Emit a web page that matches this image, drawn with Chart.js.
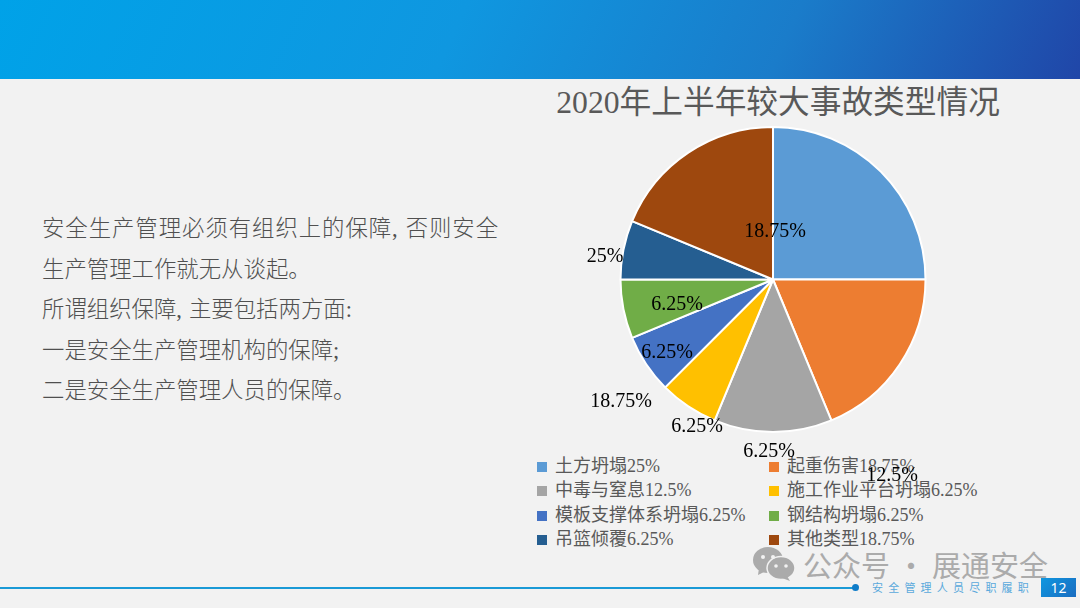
<!DOCTYPE html>
<html lang="zh-CN">
<head>
  <meta charset="UTF-8">
  <title>2020年上半年较大事故类型情况</title>
  <script src="https://cdn.jsdelivr.net/npm/chart.js@4/dist/chart.umd.min.js"></script>
  <style>
    html, body {
      margin: 0;
      padding: 0;
      width: 1080px;
      height: 608px;
      overflow: hidden;
      background: #f2f2f2;
      font-family: "Liberation Serif", "Noto Sans CJK SC", serif;
    }
    .band {
      position: absolute;
      left: 0;
      top: 0;
      width: 1080px;
      height: 79px;
      background: linear-gradient(115deg, #00a2e8 0%, #0f97e0 42%, #1a7cca 72%, #2046a8 100%);
    }
    .chart-title {
      position: absolute;
      left: 478px;
      top: 82px;
      width: 600px;
      text-align: center;
      font-size: 31.7px;
      line-height: 42px;
      color: #595959;
      white-space: nowrap;
    }
    .body-text {
      position: absolute;
      left: 42px;
      top: 209px;
      width: 480px;
      font-size: 22.4px;
      line-height: 40.5px;
      color: #505050;
      font-weight: 300;
    }
    .body-text .wide { letter-spacing: 0.95px; }
    .body-text .comma { padding-right: 7px; }
    #chart {
      position: absolute;
      left: 0;
      top: 0;
      z-index: 3;
    }
    #legend {
      position: absolute;
      left: 537px;
      top: 454px;
      display: grid;
      grid-template-columns: 232px 280px;
      grid-auto-rows: 24.3px;
      font-size: 18px;
      line-height: 24.3px;
      color: #595959;
      white-space: nowrap;
    }
    #legend i {
      display: inline-block;
      width: 10px;
      height: 10px;
      margin-right: 8px;
    }
    .mark {
      position: absolute;
      left: 803px;
      top: 544px;
      font-family: "Noto Sans CJK SC", sans-serif;
      font-size: 29px;
      line-height: 40px;
      color: #ababab;
      white-space: nowrap;
    }
    .wechat {
      position: absolute;
      left: 752px;
      top: 546px;
    }
    .rule {
      position: absolute;
      left: 0;
      top: 587px;
      width: 855px;
      height: 1.5px;
      background: #1a9ad6;
    }
    .dot {
      position: absolute;
      left: 852px;
      top: 584px;
      width: 7px;
      height: 7px;
      border-radius: 50%;
      background: #0f7cc8;
    }
    .slogan {
      position: absolute;
      left: 872px;
      top: 580px;
      font-family: "Noto Sans CJK SC", sans-serif;
      font-size: 11px;
      line-height: 15px;
      letter-spacing: 5.2px;
      color: #5aa9dc;
      white-space: nowrap;
    }
    .page {
      position: absolute;
      left: 1041px;
      top: 578px;
      width: 35px;
      height: 19px;
      background: linear-gradient(135deg, #0f97e0, #1a6cc0);
      color: #fff;
      font-family: "Noto Sans", sans-serif;
      font-size: 14px;
      line-height: 19px;
      text-align: center;
    }
  </style>
</head>
<body>
  <div class="band"></div>
  <div class="chart-title">2020年上半年较大事故类型情况</div>
  <div class="body-text">
    <span class="wide">安全生产管理必须有组织上的保障<span class="comma">,</span>否则安全</span><br>
    生产管理工作就无从谈起。<br>
    所谓组织保障<span class="comma">,</span>主要包括两方面:<br>
    一是安全生产管理机构的保障;<br>
    二是安全生产管理人员的保障。
  </div>
  <canvas id="chart" width="1080" height="608"></canvas>
  <div id="legend"></div>
  <svg class="wechat" width="44" height="36" viewBox="0 0 44 36">
    <ellipse cx="16" cy="14" rx="15" ry="13" fill="#ababab"/>
    <path d="M7 22 L6 29 L14 25 Z" fill="#ababab"/>
    <ellipse cx="29" cy="22" rx="14" ry="11.5" fill="#ababab" stroke="#f2f2f2" stroke-width="1.5"/>
    <path d="M35 30 L38 35 L30 32 Z" fill="#ababab"/>
    <circle cx="11" cy="11" r="2" fill="#f2f2f2"/>
    <circle cx="21" cy="11" r="2" fill="#f2f2f2"/>
    <circle cx="24" cy="20" r="1.8" fill="#f2f2f2"/>
    <circle cx="34" cy="20" r="1.8" fill="#f2f2f2"/>
  </svg>
  <div class="mark">公众号 · 展通安全</div>
  <div class="rule"></div>
  <div class="dot"></div>
  <div class="slogan">安全管理人员尽职履职</div>
  <div class="page">12</div>
  <script>
    const categories = ['土方坍塌', '起重伤害', '中毒与窒息', '施工作业平台坍塌', '模板支撑体系坍塌', '钢结构坍塌', '吊篮倾覆', '其他类型'];
    const shares = [25, 18.75, 12.5, 6.25, 6.25, 6.25, 6.25, 18.75];
    const colors = ['#5b9bd5', '#ed7d31', '#a5a5a5', '#ffc000', '#4472c4', '#70ad47', '#255e91', '#9e480e'];

    // the labels sit away from their slices in the original, so they are placed by hand
    const labelSpots = [[605, 257], [621, 402], [892, 476], [769, 452], [697, 427], [667, 353], [677, 305], [775, 232]];

    const scatteredLabels = {
      id: 'scatteredLabels',
      afterDatasetsDraw(chart) {
        const ctx = chart.ctx;
        ctx.save();
        ctx.font = '20px "Liberation Serif", serif';
        ctx.fillStyle = '#000';
        ctx.textAlign = 'center';
        ctx.textBaseline = 'middle';
        shares.forEach((v, i) => {
          ctx.fillText(v + '%', labelSpots[i][0], labelSpots[i][1]);
        });
        ctx.restore();
      }
    };

    new Chart(document.getElementById('chart'), {
      type: 'pie',
      data: {
        labels: categories,
        datasets: [{
          data: shares,
          backgroundColor: colors,
          borderColor: '#ffffff',
          borderWidth: 2
        }]
      },
      options: {
        responsive: false,
        animation: false,
        layout: { padding: { left: 466, right: 0, top: 126, bottom: 175 } },
        plugins: {
          legend: { display: false },
          tooltip: { enabled: false }
        }
      },
      plugins: [scatteredLabels]
    });

    const legend = document.getElementById('legend');
    categories.forEach((name, i) => {
      const row = document.createElement('div');
      const box = document.createElement('i');
      box.style.background = colors[i];
      row.appendChild(box);
      row.appendChild(document.createTextNode(name + shares[i] + '%'));
      legend.appendChild(row);
    });
  </script>
</body>
</html>
